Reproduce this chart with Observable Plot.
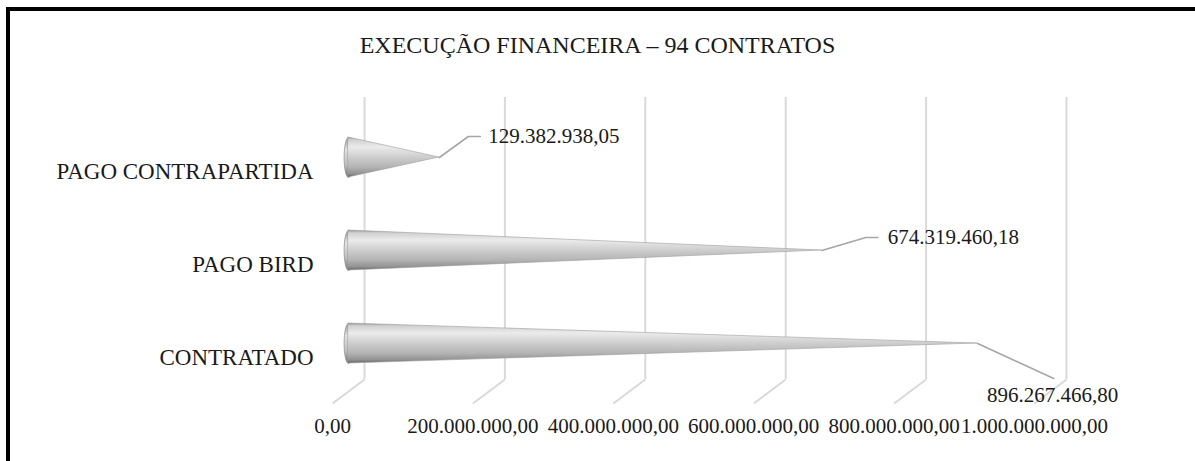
<!DOCTYPE html>
<html><head><meta charset="utf-8">
<script src="https://cdn.jsdelivr.net/npm/d3@7"></script>
<script src="https://cdn.jsdelivr.net/npm/@observablehq/plot@0.6"></script>
<style>
body{margin:0;background:#fff;}
#wrap{position:relative;width:1195px;height:461px;overflow:hidden;font-family:"Liberation Serif","Times New Roman",Times,"DejaVu Serif",serif;}
#chart{position:absolute;left:0;top:0;}
#frame{position:absolute;left:6px;top:7px;right:-10px;bottom:-10px;border-top:4px solid #000;border-left:4px solid #000;}
#title{position:absolute;top:32px;left:0;width:1195px;text-align:center;font-size:24px;color:#1a1a1a;}
</style></head><body>
<div id="wrap"><div id="chart"></div><div id="frame"></div><div id="title">EXECUÇÃO FINANCEIRA – 94 CONTRATOS</div></div>
<script>
// ---- data ----
const categories = ["PAGO CONTRAPARTIDA", "PAGO BIRD", "CONTRATADO"];
const values = [129382938.05, 674319460.18, 896267466.80];
const valueLabels = ["129.382.938,05", "674.319.460,18", "896.267.466,80"];
const xTicks = [0, 200000000, 400000000, 600000000, 800000000, 1000000000];
const tickLabels = ["0,00", "200.000.000,00", "400.000.000,00", "600.000.000,00", "800.000.000,00", "1.000.000.000,00"];

// ---- layout ----
const FONT = "'Liberation Serif', 'Times New Roman', Times, 'DejaVu Serif', serif";
const W = 1195, H = 461;
const mL = 364, mR = 129, mT = 97, mB = 82;
const yTop = -0.645, yBot = 2.387;
const XU = 1e9 / (W - mL - mR);           // data units per pixel (x)
const YU = (yBot - yTop) / (H - mT - mB);  // data units per pixel (y)
const depthX = -16;                        // 3D depth offset of the cones
const half = 20 * YU;                      // cone half height

const idx = categories.map((_, i) => i);
const coneRows = idx.flatMap(i => [
  {c: i, x: 0, y1: i - half, y2: i + half},
  {c: i, x: values[i], y1: i, y2: i}
]);

const ellipse = {
  draw(ctx, size) {
    const r = Math.sqrt(size / Math.PI), ry = r, rx = r * 0.22, k = 0.5523;
    ctx.moveTo(0, -ry);
    ctx.bezierCurveTo(k * rx, -ry, rx, -k * ry, rx, 0);
    ctx.bezierCurveTo(rx, k * ry, k * rx, ry, 0, ry);
    ctx.bezierCurveTo(-k * rx, ry, -rx, k * ry, -rx, 0);
    ctx.bezierCurveTo(-rx, -k * ry, -k * rx, -ry, 0, -ry);
    ctx.closePath();
  }
};

// label placement (pixel offsets from cone tip)
const place = i => i === 2
  ? {elbow: [76, 35], end: [76, 35], text: [75, 52]}
  : i === 0
    ? {elbow: [29, -21], end: [41, -21], text: [49, -21]}
    : {elbow: [44, -13], end: [56, -13], text: [66, -13]};

const leaderRows = idx.flatMap(i => {
  const p = place(i);
  return [[0, 0], p.elbow, p.end].map(([ox, oy]) => ({c: i, x: values[i] + ox * XU, y: i + oy * YU}));
});
const labelX = d => values[d] + place(d).text[0] * XU;
const labelY = d => d + place(d).text[1] * YU;

const chart = Plot.plot({
  width: W, height: H,
  marginLeft: mL, marginRight: mR, marginTop: mT, marginBottom: mB,
  style: {fontFamily: FONT, background: "transparent", overflow: "visible"},
  x: {domain: [0, 1e9], axis: null},
  y: {domain: [yBot, yTop], axis: null},
  marks: [
    Plot.ruleX(xTicks, {x: d => d, stroke: "#d9d9d9", strokeWidth: 2}),
    Plot.link(xTicks, {x1: d => d, y1: () => yBot, x2: d => d - 32 * XU, y2: () => yBot + 24 * YU, stroke: "#d9d9d9", strokeWidth: 2}),
    Plot.text(xTicks, {x: d => d, y: () => yBot + 47 * YU, dx: -32, text: (d, i) => tickLabels[i], fontSize: 21, fill: "#1a1a1a"}),
    Plot.text(idx, {x: () => 0, y: d => d, dx: -51, dy: 14, text: d => categories[d], textAnchor: "end", fontSize: 23, fill: "#1a1a1a"}),
    Plot.dot(idx, {x: () => 0, y: d => d, r: 20, symbol: ellipse, fill: "url(#baseGrad)", stroke: "#949494", strokeWidth: 0.8, dx: depthX}),
    Plot.areaY(coneRows, {x: "x", y1: "y1", y2: "y2", z: "c", fill: "url(#coneGrad)", stroke: "#a0a0a0", strokeWidth: 0.6, dx: depthX}),
    Plot.line(leaderRows, {x: "x", y: "y", z: "c", stroke: "#a6a6a6", strokeWidth: 1.6, dx: depthX}),
    Plot.text(idx.filter(d => d < 2), {x: labelX, y: labelY, dx: depthX, text: d => valueLabels[d], textAnchor: "start", fontSize: 21, fill: "#1a1a1a"}),
    Plot.text(idx.filter(d => d === 2), {x: labelX, y: labelY, dx: depthX, text: d => valueLabels[d], textAnchor: "middle", fontSize: 21, fill: "#1a1a1a"})
  ]
});

const defs = `<defs>
<linearGradient id="coneGrad" x1="0" y1="0" x2="0" y2="1">
<stop offset="0" stop-color="#949494"/><stop offset="0.07" stop-color="#d0d0d0"/>
<stop offset="0.25" stop-color="#ebebeb"/><stop offset="0.5" stop-color="#cecece"/>
<stop offset="0.75" stop-color="#b4b4b4"/><stop offset="0.92" stop-color="#929292"/>
<stop offset="1" stop-color="#646464"/></linearGradient>
<linearGradient id="baseGrad" x1="0" y1="0" x2="0" y2="1">
<stop offset="0" stop-color="#9a9a9a"/><stop offset="0.3" stop-color="#e2e2e2"/>
<stop offset="0.7" stop-color="#bcbcbc"/><stop offset="1" stop-color="#6a6a6a"/></linearGradient>
</defs>`;
chart.insertAdjacentHTML("afterbegin", defs);
document.getElementById("chart").appendChild(chart);
</script>
</body></html>
